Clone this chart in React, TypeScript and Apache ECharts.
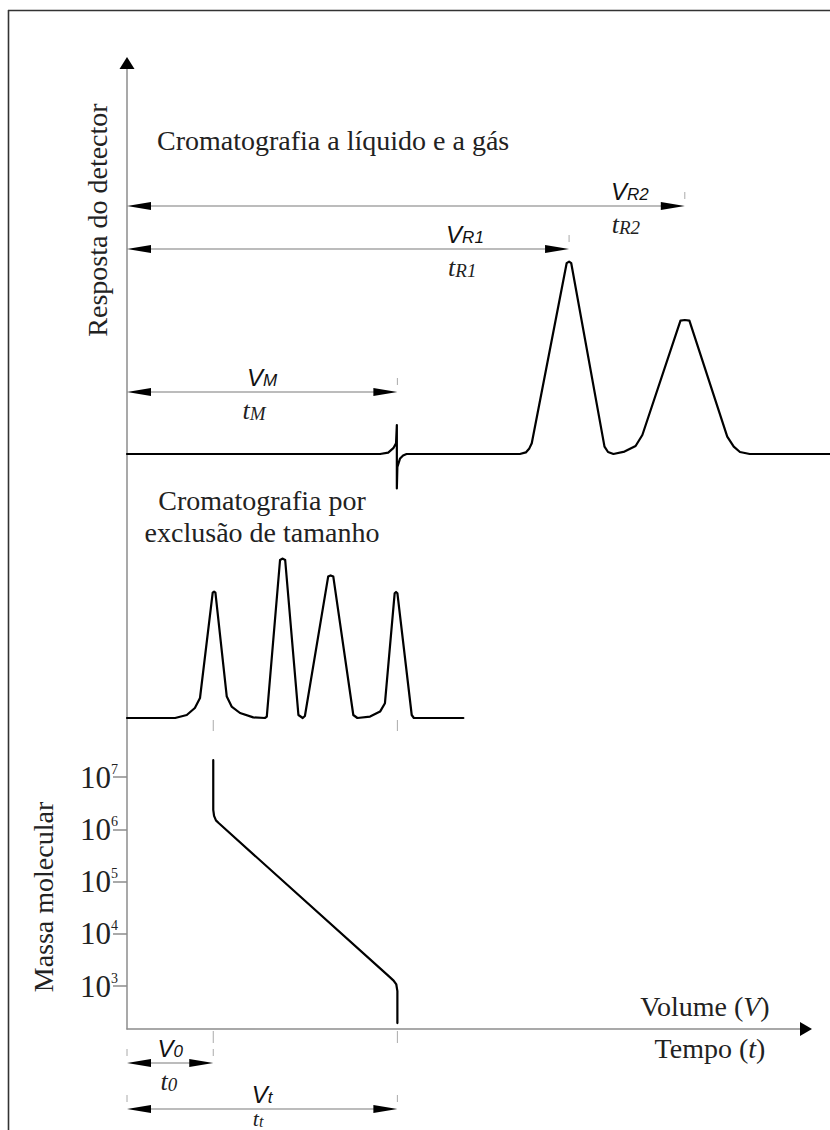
import React, { useEffect, useRef } from 'react';
import * as echarts from 'echarts';

// ---------- DATA ----------
// Liquid / gas chromatogram: volume (arbitrary units) vs detector response
const lcVolume = [0, 9.36, 9.66, 9.85, 9.95, 9.98, 9.98, 10.0, 10.1, 10.21, 10.34, 14.53, 14.75, 14.88, 14.97, 16.26, 16.35, 16.43, 17.66, 17.79, 17.99, 18.4, 18.81, 19.06, 20.47, 20.63, 20.8, 22.2, 22.44, 22.67, 23.03, 26];
const lcResponse = [0, 0, 0.07, 0.29, 0.54, 1.45, -1.72, -0.64, -0.22, -0.07, 0, 0, 0.08, 0.28, 0.54, 9.54, 9.62, 9.54, 0.37, 0.1, 0, 0.12, 0.4, 0.95, 6.67, 6.7, 6.67, 0.87, 0.37, 0.1, 0, 0];

// Size-exclusion chromatogram
const secVolume = [0, 1.78, 2.21, 2.51, 2.7, 3.17, 3.22, 3.27, 3.69, 3.87, 4.18, 4.67, 5.1, 5.17, 5.66, 5.76, 5.85, 6.34, 6.5, 6.58, 7.44, 7.53, 7.63, 8.37, 8.52, 8.99, 9.36, 9.54, 9.9, 9.95, 10.0, 10.53, 10.61, 12.44];
const secResponse = [0, 0, 0.15, 0.5, 1.0, 6.27, 6.32, 6.27, 1.07, 0.57, 0.25, 0.03, 0, 0.07, 7.9, 7.97, 7.9, 0.15, 0, 0.1, 7.07, 7.13, 7.07, 0.15, 0, 0.07, 0.32, 0.74, 6.24, 6.3, 6.24, 0.15, 0, 0];

// Calibration curve: molecular mass vs elution volume
const calVolume = [3.19, 3.19, 3.22, 3.29, 3.4, 9.69, 9.86, 9.96, 10.0, 10.0];
const calMass = [2.1e7, 2.34e6, 1.8e6, 1.48e6, 1.3e6, 1.53e3, 1.27e3, 1.07e3, 8.0e2, 1.95e2];

// Mass axis ticks
const massTicks = [1e3, 1e4, 1e5, 1e6, 1e7];

// Characteristic volumes
const V_M = 10;
const V_R1 = 16.35;
const V_R2 = 20.63;
const V_0 = 3.19;
const V_t = 10;
const dimVolumes = [V_M, V_R1, V_R2, V_0, V_t];
const dimSubscripts = ['M', 'R1', 'R2', '0', 't'];
const volumeMax = 26;

// ---------- LAYOUT ----------
const W = 830;
const H = 1130;
const AXIS_X = 127;
const DIM_ROW_Y = [392, 249, 206, 1063, 1109];
const DIM_V_LABEL_AT = [5.0, 12.5, 18.6, 1.6, 5.0];
const DIM_T_LABEL_AT = [4.7, 12.4, 18.45, 1.55, 4.85];
const DIM_T_OFFSET = [18, 18, 18, 18, 9];
const DIM_T_SIZE = [26, 26, 26, 26, 22];
const GUIDE_ROWS = [[720, 731], [1031, 1043]];

const SERIF = "'Liberation Serif', 'Times New Roman', serif";
const SANS = "'Liberation Sans', Arial, sans-serif";
const AXIS_GREY = '#8c8c8c';

const richDim = (tSize: number) => ({
  v: { fontFamily: SANS, fontStyle: 'italic', fontSize: 24, fill: '#111', color: '#111' },
  s: { fontFamily: SANS, fontStyle: 'italic', fontSize: 17, fill: '#111', color: '#111', verticalAlign: 'bottom' },
  t: { fontFamily: SERIF, fontStyle: 'italic', fontSize: tSize, fill: '#222', color: '#222' },
  ts: { fontFamily: SERIF, fontStyle: 'italic', fontSize: Math.round(tSize * 0.73), fill: '#222', color: '#222', verticalAlign: 'bottom' },
});

function buildOption() {
  const hiddenX = (gridIndex: number) => ({
    type: 'value', gridIndex, min: 0, max: volumeMax, show: false,
  });
  const pairs = (xs: number[], ys: number[]) => xs.map((x, i) => [x, ys[i]]);
  const curveStyle = { color: '#000', width: 2.2, cap: 'round', join: 'round' };
  const textCenter = { align: 'center', verticalAlign: 'middle', textAlign: 'center', textVerticalAlign: 'middle' };

  return {
    animation: false,
    backgroundColor: '#fff',
    grid: [
      { left: AXIS_X, right: W - 800, top: 69, bottom: H - 1029 }, // frame axes
      { left: AXIS_X, right: 0, top: 134, bottom: H - 494 },       // LC
      { left: AXIS_X, right: 0, top: 538, bottom: H - 738 },       // SEC
      { left: AXIS_X, right: 0, top: 777, bottom: H - 986 },       // calibration (log)
    ],
    xAxis: [
      {
        type: 'value', gridIndex: 0, min: 0, max: 1,
        axisLine: { show: true, onZero: false, lineStyle: { color: AXIS_GREY, width: 1.5 } },
        axisTick: { show: false }, axisLabel: { show: false }, splitLine: { show: false },
      },
      hiddenX(1), hiddenX(2), hiddenX(3),
    ],
    yAxis: [
      {
        type: 'value', gridIndex: 0, min: 0, max: 1,
        axisLine: { show: true, onZero: false, lineStyle: { color: AXIS_GREY, width: 1.5 } },
        axisTick: { show: false }, axisLabel: { show: false }, splitLine: { show: false },
      },
      { type: 'value', gridIndex: 1, min: -2, max: 16, show: false },
      { type: 'value', gridIndex: 2, min: -1, max: 9, show: false },
      {
        type: 'log', gridIndex: 3, logBase: 10, min: massTicks[0], max: massTicks[massTicks.length - 1],
        axisLine: { show: false },
        axisTick: { show: true, inside: false, length: 14, lineStyle: { color: AXIS_GREY, width: 1.5 } },
        splitLine: { show: false },
        axisLabel: {
          show: true, margin: 9, interval: 0,
          formatter: (v: number) => `{b|10}{e|${Math.round(Math.log10(v))}}`,
          rich: {
            b: { fontFamily: SERIF, fontSize: 31, color: '#222', lineHeight: 30 },
            e: { fontFamily: SERIF, fontSize: 14, color: '#222', verticalAlign: 'top', lineHeight: 14 },
          },
        },
      },
    ],
    graphic: [
      { type: 'line', shape: { x1: 8, y1: 10.5, x2: W, y2: 10.5 }, style: { stroke: '#333', lineWidth: 1.6 } },
      { type: 'line', shape: { x1: 8.5, y1: 10, x2: 8.5, y2: H }, style: { stroke: '#333', lineWidth: 1.6 } },
      {
        type: 'text', x: 157, y: 140,
        style: { text: 'Cromatografia a líquido e a gás', font: `28px ${SERIF}`, fill: '#222', align: 'left', verticalAlign: 'middle', textAlign: 'left', textVerticalAlign: 'middle' },
      },
      {
        type: 'text', x: 262, y: 516,
        style: { text: 'Cromatografia por\nexclusão de tamanho', font: `28px ${SERIF}`, lineHeight: 32, fill: '#222', ...textCenter },
      },
      {
        type: 'text', x: 97, y: 220, rotation: Math.PI / 2,
        style: { text: 'Resposta do detector', font: `28px ${SERIF}`, fill: '#222', ...textCenter },
      },
      {
        type: 'text', x: 43, y: 897, rotation: Math.PI / 2,
        style: { text: 'Massa molecular', font: `28px ${SERIF}`, fill: '#222', ...textCenter },
      },
      {
        type: 'text', x: 705, y: 1006,
        style: {
          text: '{a|Volume (}{i|V}{a|)}', ...textCenter,
          rich: {
            a: { fontFamily: SERIF, fontSize: 28, fill: '#222' },
            i: { fontFamily: SERIF, fontStyle: 'italic', fontSize: 28, fill: '#222' },
          },
        },
      },
      {
        type: 'text', x: 710, y: 1048,
        style: {
          text: '{a|Tempo (}{i|t}{a|)}', ...textCenter,
          rich: {
            a: { fontFamily: SERIF, fontSize: 28, fill: '#222' },
            i: { fontFamily: SERIF, fontStyle: 'italic', fontSize: 28, fill: '#222' },
          },
        },
      },
    ],
    series: [
      {
        name: 'LC', type: 'line', xAxisIndex: 1, yAxisIndex: 1, data: pairs(lcVolume, lcResponse),
        symbol: 'none', clip: false, silent: true, lineStyle: curveStyle,
      },
      {
        name: 'SEC', type: 'line', xAxisIndex: 2, yAxisIndex: 2, data: pairs(secVolume, secResponse),
        symbol: 'none', clip: false, silent: true, lineStyle: curveStyle,
      },
      {
        name: 'Calibração', type: 'line', xAxisIndex: 3, yAxisIndex: 3, data: pairs(calVolume, calMass),
        symbol: 'none', clip: false, silent: true, lineStyle: curveStyle,
      },
      {
        name: 'axisArrows', type: 'custom', xAxisIndex: 0, yAxisIndex: 0, silent: true,
        data: [[1, 0], [0, 1]],
        renderItem: (params: any, api: any) => {
          const p = api.coord([api.value(0), api.value(1)]);
          const pts = params.dataIndex === 0
            ? [[p[0] + 12, p[1]], [p[0], p[1] - 7], [p[0], p[1] + 7]]
            : [[p[0], p[1] - 12], [p[0] - 7.5, p[1]], [p[0] + 7.5, p[1]]];
          return { type: 'polygon', shape: { points: pts }, style: { fill: '#000' } };
        },
      },
      {
        name: 'dimensions', type: 'custom', xAxisIndex: 1, yAxisIndex: 1, silent: true,
        data: dimVolumes.map((v) => [0, v]),
        renderItem: (params: any, api: any) => {
          const i = params.dataIndex;
          const x0 = api.coord([api.value(0), 0])[0];
          const x1 = api.coord([api.value(1), 0])[0];
          const y = DIM_ROW_Y[i];
          const sub = dimSubscripts[i];
          const vx = api.coord([DIM_V_LABEL_AT[i], 0])[0];
          const tx = api.coord([DIM_T_LABEL_AT[i], 0])[0];
          const rich = richDim(DIM_T_SIZE[i]);
          const children: any[] = [
            { type: 'line', shape: { x1: x0 + 6, y1: y, x2: x1 - 6, y2: y }, style: { stroke: '#7a7a7a', lineWidth: 1.2 } },
            { type: 'polygon', shape: { points: [[x0, y], [x0 + 24, y - 4], [x0 + 24, y + 4]] }, style: { fill: '#000' } },
            { type: 'polygon', shape: { points: [[x1, y], [x1 - 24, y - 4], [x1 - 24, y + 4]] }, style: { fill: '#000' } },
            { type: 'line', shape: { x1: x1, y1: y - 14, x2: x1, y2: y - 7 }, style: { stroke: '#aaa', lineWidth: 1 } },
            {
              type: 'text', x: vx, y: y - 15,
              style: { text: `{v|V}{s|${sub}}`, rich, align: 'center', verticalAlign: 'middle', textAlign: 'center', textVerticalAlign: 'middle' },
            },
            {
              type: 'text', x: tx, y: y + DIM_T_OFFSET[i],
              style: { text: `{t|t}{ts|${sub}}`, rich, align: 'center', verticalAlign: 'middle', textAlign: 'center', textVerticalAlign: 'middle' },
            },
          ];
          if (i >= 3) {
            children.push({ type: 'line', shape: { x1: x0, y1: y - 14, x2: x0, y2: y - 7 }, style: { stroke: '#aaa', lineWidth: 1 } });
          }
          return { type: 'group', children };
        },
      },
      {
        name: 'guides', type: 'custom', xAxisIndex: 1, yAxisIndex: 1, silent: true,
        data: [[V_0], [V_t]],
        renderItem: (params: any, api: any) => {
          const x = api.coord([api.value(0), 0])[0];
          return {
            type: 'group',
            children: GUIDE_ROWS.map((r) => ({
              type: 'line', shape: { x1: x, y1: r[0], x2: x, y2: r[1] }, style: { stroke: '#aaa', lineWidth: 1 },
            })),
          };
        },
      },
    ],
  };
}

export default function App() {
  const ref = useRef<HTMLDivElement>(null);
  useEffect(() => {
    if (!ref.current) return;
    const chart = echarts.init(ref.current, null, { renderer: 'svg' });
    chart.setOption(buildOption() as any);
    return () => chart.dispose();
  }, []);
  return (
    <div
      ref={ref}
      style={{ position: 'absolute', left: 0, top: 0, width: W, height: H, background: '#fff' }}
    />
  );
}
